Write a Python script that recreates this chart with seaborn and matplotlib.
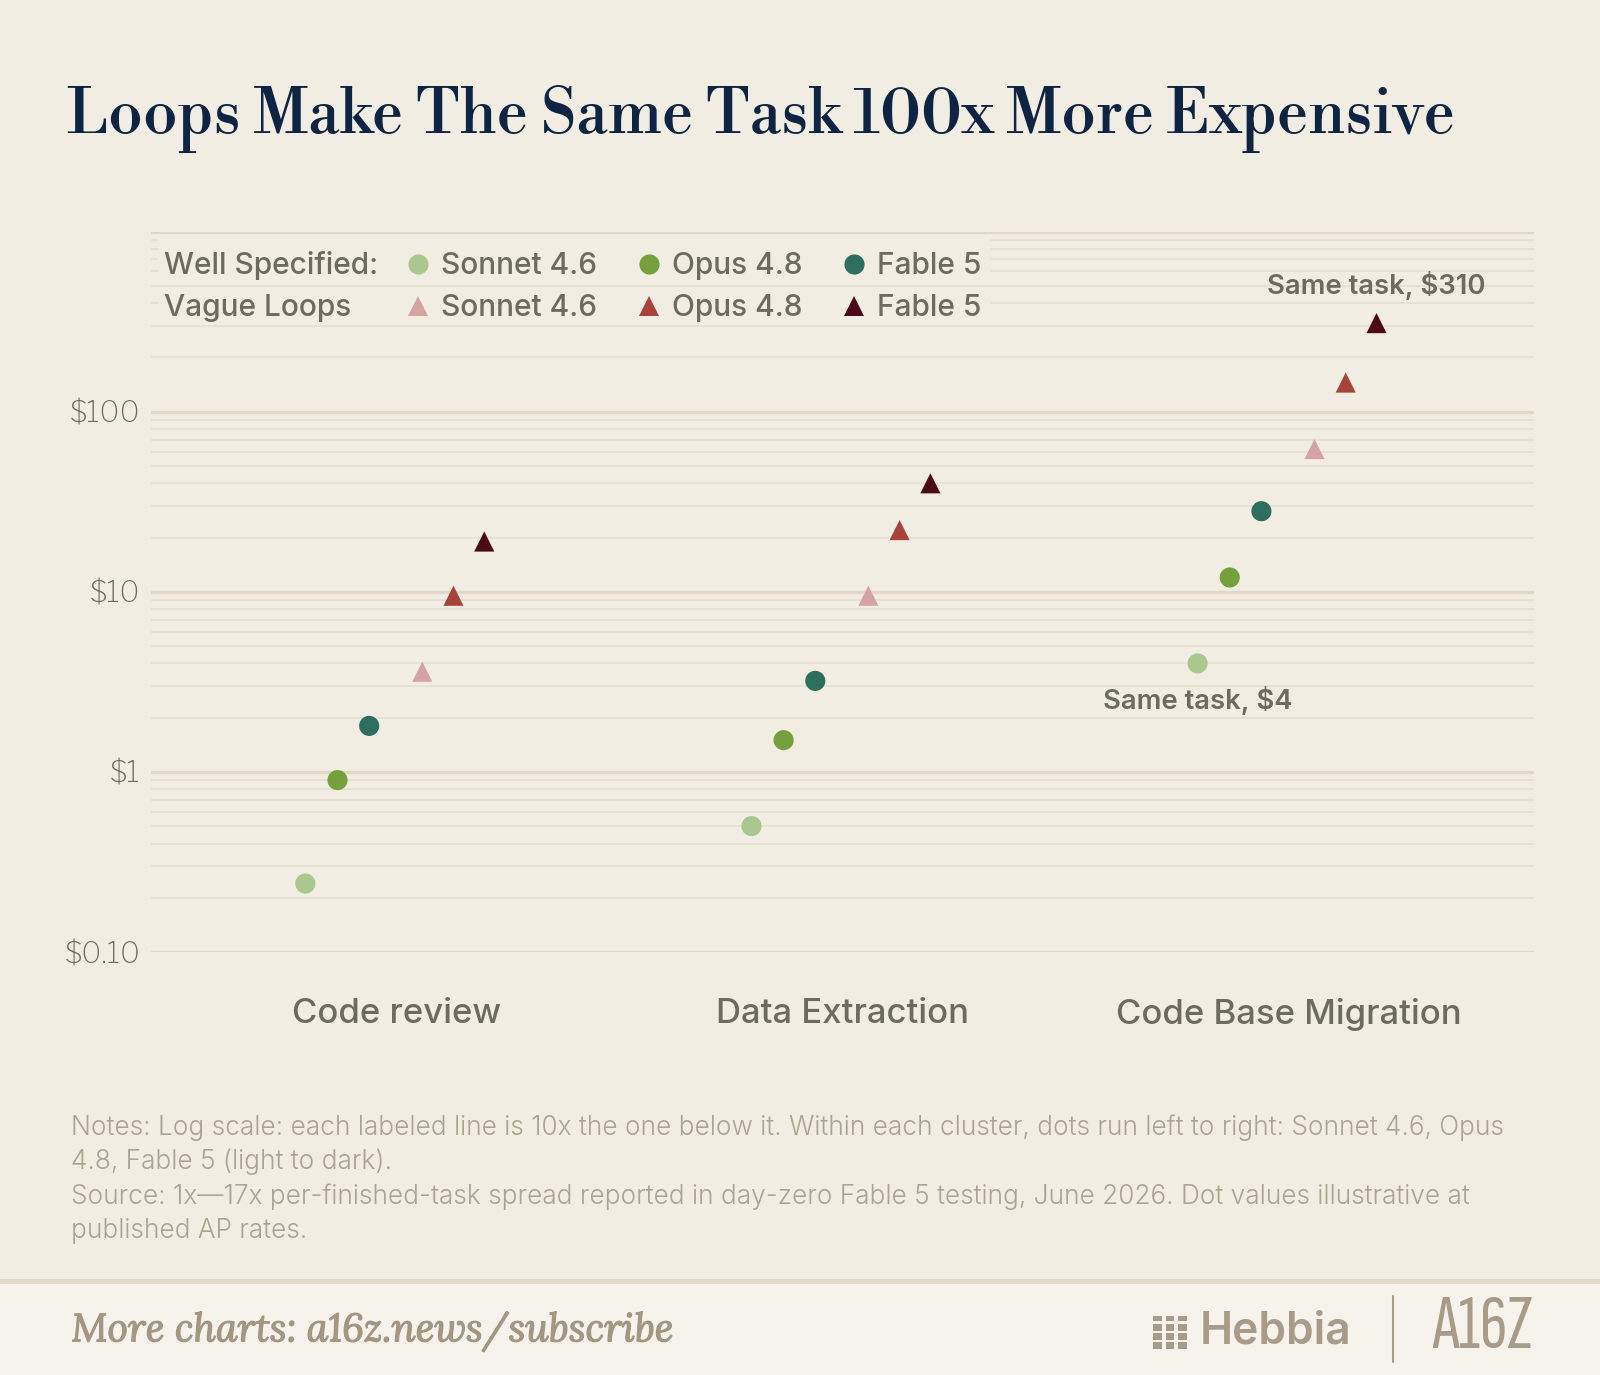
import numpy as np
import pandas as pd
import seaborn as sns
import matplotlib.pyplot as plt
import matplotlib.patheffects as pe
from matplotlib.lines import Line2D
from matplotlib.patches import Rectangle
from matplotlib.ticker import LogLocator, NullFormatter

# data (USD per finished task)
tasks = ["Code review", "Data Extraction", "Code Base Migration"]
models = ["Sonnet 4.6", "Opus 4.8", "Fable 5"]
ws_sonnet = [0.24, 0.5, 4.0]
ws_opus = [0.9, 1.5, 12]
ws_fable = [1.8, 3.2, 28]
vl_sonnet = [3.6, 9.5, 62]
vl_opus = [9.5, 22, 145]
vl_fable = [19, 40, 310]
y_ticks = [0.1, 1, 10, 100, 1000]
y_labels = [r"\$0.10", r"\$1", r"\$10", r"\$100", ""]

# layout / style
BG = "#f1ede3"
GREY = "#6d6b5f"
NOTE = "#aca490"
NAVY = "#0f2442"
LOGO = "#a89c88"
colors = {
    "ws_sonnet": "#a9c78e", "ws_opus": "#76a03c", "ws_fable": "#2e6e5e",
    "vl_sonnet": "#d6a2a2", "vl_opus": "#a8433a", "vl_fable": "#4a0b16",
}
offsets = {
    "ws_sonnet": -0.204, "ws_opus": -0.132, "ws_fable": -0.061,
    "vl_sonnet": 0.058, "vl_opus": 0.128, "vl_fable": 0.197,
}
TITLE_FONT = ["Libre Bodoni", "Liberation Serif", "DejaVu Serif"]
SANS = ["Inter", "Liberation Sans", "DejaVu Sans"]
LIGHT = ["Libre Franklin", "Lato", "DejaVu Sans"]
ITALIC = ["Lora", "Liberation Serif", "DejaVu Serif"]
NARROW = ["Sofia Sans Extra Condensed", "Archivo Narrow", "Liberation Sans Narrow", "DejaVu Sans"]
LEG_SIZE = 21.5

series = {
    "ws_sonnet": ws_sonnet, "ws_opus": ws_opus, "ws_fable": ws_fable,
    "vl_sonnet": vl_sonnet, "vl_opus": vl_opus, "vl_fable": vl_fable,
}
rows = []
for key, vals in series.items():
    spec = "Well Specified" if key.startswith("ws") else "Vague Loops"
    for i, (task, v) in enumerate(zip(tasks, vals)):
        rows.append({"task": task, "series": key, "spec": spec,
                     "xpos": i + offsets[key], "cost": v})
df = pd.DataFrame(rows)

sns.set_theme(style="white")
plt.rcParams["font.family"] = SANS

W, H = 1600, 1375


def fx(x):
    return x / W


def fy(y):
    return 1 - y / H


fig = plt.figure(figsize=(W / 100, H / 100), dpi=100, facecolor=BG)
ax = fig.add_axes([fx(151), fy(952), (1534 - 151) / W, (952 - 231.5) / H])
ax.set_facecolor(BG)
ax.set_axisbelow(True)

sns.scatterplot(data=df, x="xpos", y="cost", hue="series", hue_order=list(series),
                palette=colors, style="spec",
                markers={"Well Specified": "o", "Vague Loops": "^"},
                s=210, linewidth=0, legend=False, ax=ax, zorder=3)

ax.set_yscale("log")
ax.set_ylim(0.1, 1000)
ax.set_xlim(-0.55, 2.55)
ax.set_yticks(y_ticks, labels=y_labels)
ax.yaxis.set_minor_locator(LogLocator(base=10, subs=np.arange(2, 10)))
ax.yaxis.set_minor_formatter(NullFormatter())
ax.set_xticks(range(len(tasks)), labels=tasks)
ax.grid(axis="y", which="major", color="#e1d7c4", lw=2.4)
ax.grid(axis="y", which="minor", color="#e7e0d2", lw=1.3)
ax.grid(axis="x", visible=False)
ax.tick_params(axis="both", which="both", length=0)
ax.tick_params(axis="y", pad=7.5, labelsize=21.5, labelcolor=GREY)
ax.tick_params(axis="x", pad=33, labelsize=25, labelcolor=GREY)
for lab in ax.get_yticklabels():
    lab.set_family(LIGHT)
for lab in ax.get_xticklabels():
    lab.set_fontweight(500)
ax.set_xlabel("")
ax.set_ylabel("")
sns.despine(ax=ax, left=True, bottom=True)

# annotations on the extreme points
mig = df[df["task"] == "Code Base Migration"]
lo = mig[mig["series"] == "ws_sonnet"].iloc[0]
hi = mig[mig["series"] == "vl_fable"].iloc[0]
ax.annotate(f"Same task, ${hi.cost:.0f}", xy=(hi.xpos, hi.cost), xytext=(0, 27),
            textcoords="offset points", ha="center", va="center",
            fontsize=19.8, color=GREY, fontweight=600)
ax.annotate(f"Same task, ${lo.cost:.0f}", xy=(lo.xpos, lo.cost), xytext=(0, -26.5),
            textcoords="offset points", ha="center", va="center",
            fontsize=19.8, color=GREY, fontweight=600)

# legend: background bands hide the gridlines behind the two rows
for y0, y1 in [(236, 281), (292, 320)]:
    ax.add_patch(Rectangle((fx(158), fy(y1)), fx(990 - 158), (y1 - y0) / H,
                           transform=fig.transFigure, facecolor=BG, edgecolor="none",
                           zorder=1, clip_on=False))
handles, labels = [], []
for m, key_ws, key_vl in zip(models, ["ws_sonnet", "ws_opus", "ws_fable"],
                             ["vl_sonnet", "vl_opus", "vl_fable"]):
    handles.append(Line2D([], [], ls="", marker="o", markersize=14.5,
                          markerfacecolor=colors[key_ws], markeredgewidth=0))
    labels.append(m)
    handles.append(Line2D([], [], ls="", marker="^", markersize=14.5,
                          markerfacecolor=colors[key_vl], markeredgewidth=0))
    labels.append(m)
leg = ax.legend(handles, labels, ncol=3, loc="upper left",
                bbox_to_anchor=(fx(406), fy(252)), bbox_transform=fig.transFigure,
                frameon=False, borderpad=0, borderaxespad=0, handlelength=0.8,
                handletextpad=0.37, columnspacing=1.34, labelspacing=0.47,
                prop={"family": SANS, "size": LEG_SIZE, "weight": 500}, labelcolor=GREY)
fig.text(fx(164), fy(265), "Well Specified:", fontsize=LEG_SIZE, fontweight=500,
         color=GREY, va="center", ha="left")
fig.text(fx(164), fy(308), "Vague Loops", fontsize=LEG_SIZE, fontweight=500,
         color=GREY, va="center", ha="left")

# title
fig.text(fx(67), fy(132.7), "Loops Make The Same Task 100x More Expensive",
         family=TITLE_FONT, fontweight="bold", fontsize=44.7, color=NAVY,
         va="baseline", ha="left")

# notes
notes = [
    "Notes: Log scale: each labeled line is 10x the one below it. Within each cluster, dots run left to right: Sonnet 4.6, Opus",
    "4.8, Fable 5 (light to dark).",
    "Source: 1x\u201417x per-finished-task spread reported in day-zero Fable 5 testing, June 2026. Dot values illustrative at",
    "published AP rates.",
]
for i, line in enumerate(notes):
    fig.text(fx(71.4), fy(1127.6 + 34.4 * i), line, fontsize=18.9, fontweight=300,
             color=NOTE, va="center", ha="left")

# footer band
fig.add_artist(Rectangle((0, 0), 1, (H - 1281) / H, transform=fig.transFigure,
                         facecolor="#f6f3ec", edgecolor="none", zorder=0))
fig.add_artist(Line2D([0, 1], [fy(1281)] * 2, transform=fig.transFigure,
                      color="#e2dac8", lw=3.5))
fig.text(fx(71.4), fy(1331.6), "More charts: a16z.news/subscribe", fontsize=28.3,
         family=ITALIC, style="italic", color="#a39781", va="center", ha="left",
         path_effects=[pe.withStroke(linewidth=0.9, foreground="#a39781")])
for c in range(3):
    for r, (y0, hgt) in enumerate([(1316, 5), (1324, 7), (1333, 7), (1342, 7)]):
        x0 = 1153 + c * 12.5
        fig.add_artist(Rectangle((fx(x0), fy(y0 + hgt)), 8.5 / W, hgt / H,
                                 transform=fig.transFigure, facecolor=LOGO,
                                 edgecolor="none"))
fig.text(fx(1200), fy(1331.6), "Hebbia", fontsize=32, fontweight=600, color=LOGO,
         va="center", ha="left")
fig.add_artist(Line2D([fx(1393)] * 2, [fy(1296), fy(1362)],
                      transform=fig.transFigure, color=LOGO, lw=1.5))
fig.text(fx(1432), fy(1329), "A16Z", fontsize=55, family=NARROW,
         color=LOGO, va="center", ha="left")

fig.savefig("out.png", dpi=100, facecolor=BG)
